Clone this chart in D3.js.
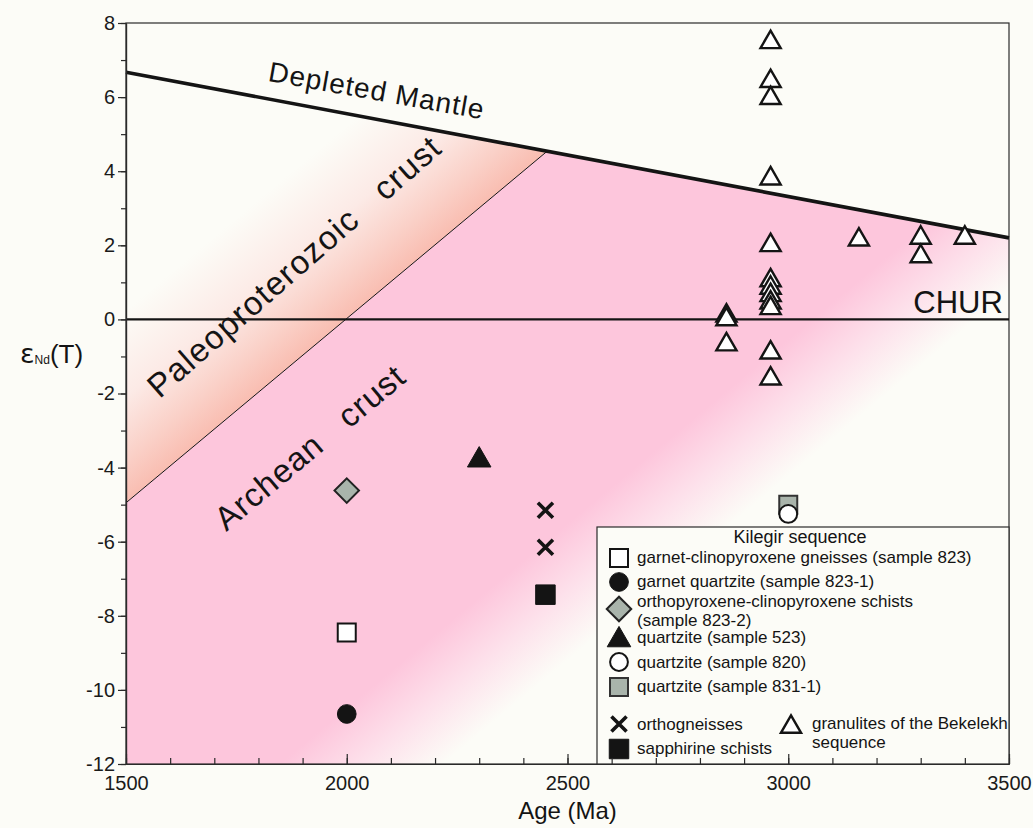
<!DOCTYPE html>
<html>
<head>
<meta charset="utf-8">
<script src="https://cdn.jsdelivr.net/npm/d3@7"></script>
<style>
  html, body { margin: 0; padding: 0; background: #fcfcf7; }
  svg { display: block; font-family: "Liberation Sans", Arial, Helvetica, sans-serif; }
</style>
</head>
<body>
<svg id="chart" width="1033" height="828"></svg>
<script>
// ---- axis ticks -------------------------------------------------------
const xTickValues = [1500, 2000, 2500, 3000, 3500];
const yTickValues = [-12, -10, -8, -6, -4, -2, 0, 2, 4, 6, 8];

// ---- reference evolution lines (age in Ma, εNd) -------------------------
const depletedMantle = [{ age: 1500, eps: 6.67 }, { age: 3500, eps: 2.2 }];
const chur = [{ age: 1500, eps: 0 }, { age: 3500, eps: 0 }];
const crustBoundary = [{ age: 1500, eps: -4.95 }, { age: 2454, eps: 4.54 }];

// ---- Kilegir sequence ----------------------------------------------------
const sample823 = [{ age: 2000, eps: -8.45 }];
const sample823_1 = [{ age: 2000, eps: -10.65 }];
const sample823_2 = [{ age: 2000, eps: -4.62 }];
const sample523 = [{ age: 2300, eps: -3.8 }];
const sample831_1 = [{ age: 3000, eps: -5.0 }];
const sample820 = [{ age: 3000, eps: -5.25 }];
const orthogneisses = [{ age: 2450, eps: -5.15 }, { age: 2450, eps: -6.15 }];
const sapphirineSchists = [{ age: 2450, eps: -7.43 }];

// ---- granulites of the Bekelekh sequence --------------------------------
const bekelekh = [
  { age: 2860, eps: 0.1 }, { age: 2860, eps: 0.0 }, { age: 2860, eps: -0.68 },
  { age: 2960, eps: 7.48 }, { age: 2960, eps: 6.43 }, { age: 2960, eps: 5.97 },
  { age: 2960, eps: 3.8 }, { age: 2960, eps: 2.0 }, { age: 2960, eps: 1.05 },
  { age: 2960, eps: 0.85 }, { age: 2960, eps: 0.65 }, { age: 2960, eps: 0.45 },
  { age: 2960, eps: 0.3 }, { age: 2960, eps: -0.9 }, { age: 2960, eps: -1.6 },
  { age: 3160, eps: 2.15 }, { age: 3300, eps: 2.2 }, { age: 3300, eps: 1.7 },
  { age: 3400, eps: 2.2 }
];

// ---- legend texts ---------------------------------------------------------
const legendTitle = "Kilegir sequence";
const legendLabels = [
  ["garnet-clinopyroxene gneisses (sample 823)"],
  ["garnet quartzite (sample 823-1)"],
  ["orthopyroxene-clinopyroxene schists", "(sample 823-2)"],
  ["quartzite (sample 523)"],
  ["quartzite (sample 820)"],
  ["quartzite (sample 831-1)"],
  ["orthogneisses"],
  ["sapphirine schists"],
  ["granulites of the Bekelekh", "sequence"]
];

// ---------------------------------------------------------------------------
const W = 1033, H = 828;
const margin = { left: 126, right: 24, top: 23, bottom: 64 };
const svg = d3.select("#chart");

const x = d3.scaleLinear().domain([1500, 3500]).range([margin.left, W - margin.right]);
const y = d3.scaleLinear().domain([-12, 8]).range([H - margin.bottom, margin.top]);
const [xMin, xMax] = x.domain();
const [yMin] = y.domain();

const BG = "#fcfcf7";
const INK = "#141414";
const GREY = "#a9b4ab";

// marker styles
const markers = {
  openSquare:   { type: d3.symbolSquare,   size: 324, fill: "#ffffff", stroke: INK, sw: 2 },
  blackCircle:  { type: d3.symbolCircle,   size: 275, fill: INK,       stroke: INK, sw: 1 },
  greyDiamond:  { type: d3.symbolSquare,   size: 300, fill: GREY,      stroke: "#222", sw: 2, rotate: 45 },
  blackTri:     { type: d3.symbolTriangle, size: 240, fill: INK,       stroke: INK, sw: 1 },
  openCircle:   { type: d3.symbolCircle,   size: 250, fill: "#ffffff", stroke: INK, sw: 2 },
  greySquare:   { type: d3.symbolSquare,   size: 324, fill: GREY,      stroke: "#333", sw: 2 },
  cross:        { type: d3.symbolX,        size: 150, fill: "none",    stroke: INK, sw: 3.6 },
  blackSquare:  { type: d3.symbolSquare,   size: 380, fill: INK,       stroke: INK, sw: 1 },
  openTri:      { type: d3.symbolTriangle, size: 176, fill: "#ffffff", stroke: INK, sw: 2.4 }
};

const series = [
  { data: sample823,         marker: "openSquare" },
  { data: sample823_1,       marker: "blackCircle" },
  { data: sample823_2,       marker: "greyDiamond" },
  { data: sample523,         marker: "blackTri" },
  { data: sample831_1,       marker: "greySquare" },
  { data: sample820,         marker: "openCircle" },
  { data: orthogneisses,     marker: "cross" },
  { data: sapphirineSchists, marker: "blackSquare" },
  { data: bekelekh,          marker: "openTri" }
];

function symbolPath(m) {
  return d3.symbol().type(m.type).size(m.size)();
}
function placeMarker(sel, m, px, py) {
  sel.attr("d", symbolPath(m))
    .attr("transform", `translate(${px},${py})` + (m.rotate ? ` rotate(${m.rotate})` : ""))
    .attr("fill", m.fill)
    .attr("stroke", m.stroke)
    .attr("stroke-width", m.sw)
    .attr("stroke-linejoin", "miter");
}

// ---- background -----------------------------------------------------------
svg.append("rect").attr("width", W).attr("height", H).attr("fill", BG);

// ---- gradients oriented across the crust boundary ---------------------------
const defs = svg.append("defs");
const [c0, c1] = crustBoundary;
const A = [x(c0.age), y(c0.eps)], B = [x(c1.age), y(c1.eps)];
const len = Math.hypot(B[0] - A[0], B[1] - A[1]);
const u = [(B[0] - A[0]) / len, (B[1] - A[1]) / len];
const n = [-u[1], u[0]];                     // points down / right of the boundary
const perp = dEps => Math.abs(y(0) - y(dEps)) * n[1];  // vertical εNd offset → normal distance

function addGradient(id, sign, spanEps, stops) {
  const d = perp(spanEps) * sign;
  const g = defs.append("linearGradient").attr("id", id)
    .attr("gradientUnits", "userSpaceOnUse")
    .attr("x1", A[0]).attr("y1", A[1])
    .attr("x2", A[0] + n[0] * d).attr("y2", A[1] + n[1] * d);
  stops.forEach(([o, c]) => g.append("stop").attr("offset", o).attr("stop-color", c));
}
addGradient("archeanFill", 1, 14.2, [
  [0, "#fdc6dc"], [0.74, "#fdc6dc"], [0.87, "#fde1eb"], [1, BG]
]);
addGradient("paleoFill", -1, 5.2, [
  [0, "#f9bdb1"], [0.22, "#fad0c7"], [0.55, "#fceae6"], [1, BG]
]);

const dmEnd = depletedMantle[1], dmStart = depletedMantle[0];
const archeanRegion = [
  [c0.age, c0.eps], [c1.age, c1.eps], [dmEnd.age, dmEnd.eps], [xMax, yMin], [xMin, yMin]
];
const paleoRegion = [
  [c0.age, c0.eps], [c1.age, c1.eps], [dmStart.age, dmStart.eps]
];
const area = d3.line().x(d => x(d[0])).y(d => y(d[1]));
svg.append("path").attr("d", area(paleoRegion) + "Z").attr("fill", "url(#paleoFill)");
svg.append("path").attr("d", area(archeanRegion) + "Z").attr("fill", "url(#archeanFill)");

// ---- axes -------------------------------------------------------------------
const axisColor = "#2a2a2a";
function styleAxis(g, fontSize) {
  g.attr("font-family", null).attr("font-size", fontSize);
  g.selectAll("path, line").attr("stroke", axisColor).attr("stroke-width", 1.2);
  g.selectAll("text").attr("fill", "#1a1a1a");
}
const yAxisMinor = d3.axisLeft(y).tickValues(d3.range(-12, 9, 1)).tickSize(5).tickSizeOuter(0).tickFormat("");
const yAxisMajor = d3.axisLeft(y).tickValues(yTickValues).tickSize(8).tickSizeOuter(0).tickPadding(3)
  .tickFormat(d => String(d));
const xAxisMinor = d3.axisBottom(x).tickValues(d3.range(1500, 3501, 100)).tickSize(-6).tickSizeOuter(0).tickFormat("");
const xAxisMajor = d3.axisBottom(x).tickValues(xTickValues).tickSize(-10).tickSizeOuter(0).tickPadding(12)
  .tickFormat(d => String(d));

// frame (top and right edges)
svg.append("rect")
  .attr("x", x(xMin)).attr("y", y(8))
  .attr("width", x(xMax) - x(xMin)).attr("height", y(yMin) - y(8))
  .attr("fill", "none").attr("stroke", axisColor).attr("stroke-width", 1.2);

// ---- reference lines --------------------------------------------------------
const line = d3.line().x(d => x(d.age)).y(d => y(d.eps));
svg.append("path").attr("d", line(crustBoundary)).attr("fill", "none").attr("stroke", INK).attr("stroke-width", 1);
svg.append("path").attr("d", line(chur)).attr("fill", "none").attr("stroke", INK).attr("stroke-width", 2.4);
svg.append("path").attr("d", line(depletedMantle)).attr("fill", "none").attr("stroke", INK).attr("stroke-width", 3.6);

// ---- region & line labels -------------------------------------------------
const angleDM = Math.atan2(y(dmEnd.eps) - y(dmStart.eps), x(dmEnd.age) - x(dmStart.age)) * 180 / Math.PI;
const angleCrust = Math.atan2(u[1], u[0]) * 180 / Math.PI;

svg.append("text")
  .attr("transform", `translate(${x(2064)},${y(5.92)}) rotate(${angleDM - 0.5})`)
  .attr("text-anchor", "middle").attr("font-size", 28).attr("letter-spacing", 1)
  .attr("fill", INK).text("Depleted Mantle");

svg.append("text")
  .attr("x", x(3486)).attr("y", y(0.17))
  .attr("text-anchor", "end").attr("font-size", 31).attr("fill", INK).text("CHUR");

svg.append("text")
  .attr("transform", `translate(${x(1898)},${y(1.2)}) rotate(${angleCrust - 1.3})`)
  .attr("text-anchor", "middle").attr("font-size", 33).attr("letter-spacing", 1.3)
  .attr("xml:space", "preserve").style("white-space", "pre")
  .attr("fill", INK).text("Paleoproterozoic   crust");

svg.append("text")
  .attr("transform", `translate(${x(1933)},${y(-3.69)}) rotate(${angleCrust})`)
  .attr("text-anchor", "middle").attr("font-size", 33).attr("letter-spacing", 1)
  .attr("xml:space", "preserve").style("white-space", "pre")
  .attr("fill", INK).text("Archean   crust");

// ---- data markers ---------------------------------------------------------
const pts = svg.append("g").attr("class", "points");
series.forEach(s => {
  const m = markers[s.marker];
  pts.selectAll(null).data(s.data).join("path")
    .each(function (d) { placeMarker(d3.select(this), m, x(d.age), y(d.eps)); });
});

// ---- legend ---------------------------------------------------------------
const lg = svg.append("g").attr("class", "legend");
lg.append("rect")
  .attr("x", 597).attr("y", 527).attr("width", x(xMax) - 597).attr("height", y(yMin) - 527)
  .attr("fill", BG).attr("stroke", axisColor).attr("stroke-width", 1.2);
lg.append("text").attr("x", 800).attr("y", 543).attr("text-anchor", "middle")
  .attr("font-size", 18).attr("fill", INK).text(legendTitle);

const legendLayout = [
  { marker: "openSquare",  mx: 619, my: 558, tx: 637, ty: [557] },
  { marker: "blackCircle", mx: 619, my: 582, tx: 637, ty: [581] },
  { marker: "greyDiamond", mx: 619, my: 609, tx: 637, ty: [601, 620] },
  { marker: "blackTri",    mx: 619, my: 640, tx: 637, ty: [637] },
  { marker: "openCircle",  mx: 619, my: 662, tx: 637, ty: [662] },
  { marker: "greySquare",  mx: 619, my: 687, tx: 637, ty: [686] },
  { marker: "cross",       mx: 619, my: 724, tx: 637, ty: [724] },
  { marker: "blackSquare", mx: 619, my: 749, tx: 637, ty: [748] },
  { marker: "openTri",     mx: 791, my: 727, tx: 812, ty: [723, 742] }
];
legendLayout.forEach((row, i) => {
  placeMarker(lg.append("path"), markers[row.marker], row.mx, row.my);
  legendLabels[i].forEach((txt, j) => {
    lg.append("text").attr("x", row.tx).attr("y", row.ty[j] + 6)
      .attr("font-size", 17).attr("fill", INK).text(txt);
  });
});

// axes on top
const gy1 = svg.append("g").attr("transform", `translate(${x(xMin)},0)`).call(yAxisMinor);
const gy2 = svg.append("g").attr("transform", `translate(${x(xMin)},0)`).call(yAxisMajor);
const gx1 = svg.append("g").attr("transform", `translate(0,${y(yMin)})`).call(xAxisMinor);
const gx2 = svg.append("g").attr("transform", `translate(0,${y(yMin)})`).call(xAxisMajor);
[gy1, gy2].forEach(g => styleAxis(g, 20));
[gx1, gx2].forEach(g => styleAxis(g, 20));

// ---- axis titles ------------------------------------------------------------
svg.append("text").attr("x", x(2500)).attr("y", 819).attr("text-anchor", "middle")
  .attr("font-size", 24).attr("fill", INK).text("Age (Ma)");

const yl = svg.append("text").attr("x", 20).attr("y", 363).attr("fill", INK);
yl.append("tspan").attr("font-size", 27).attr("font-family", "DejaVu Sans").text("ε");
yl.append("tspan").attr("font-size", 12).attr("dy", 1).text("Nd");
yl.append("tspan").attr("font-size", 26).attr("dy", -1).text("(T)");
</script>
</body>
</html>
